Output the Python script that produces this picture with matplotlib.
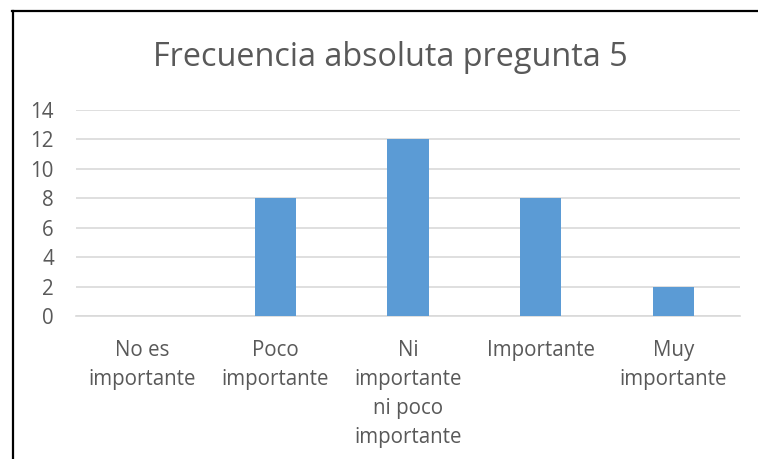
import matplotlib.pyplot as plt
from matplotlib.lines import Line2D

# Datos
categorias = ["No es\nimportante", "Poco\nimportante", "Ni\nimportante\nni poco\nimportante",
              "Importante", "Muy\nimportante"]
frecuencias = [0, 8, 12, 8, 2]
ticks_y = [0, 2, 4, 6, 8, 10, 12, 14]

plt.rcParams['font.family'] = ['Open Sans', 'DejaVu Sans']
gris = "#595959"

fig = plt.figure(figsize=(7.58, 4.59), dpi=100)
ax = fig.add_axes([76 / 758, 1 - 316 / 459, (740 - 76) / 758, (316 - 110) / 459])

x = range(len(categorias))
ax.bar(x, frecuencias, width=0.31, color="#5B9BD5", zorder=3)

ax.set_xlim(-0.5, len(categorias) - 0.5)
ax.set_ylim(0, 14)
ax.set_yticks(ticks_y)
ax.set_xticks(list(x))
ax.set_xticklabels(categorias, linespacing=1.5, va="top")
ax.tick_params(axis="both", length=0, colors=gris, labelsize=14.8)
ax.tick_params(axis="x", pad=17)
ax.tick_params(axis="y", pad=16)
ax.grid(axis="y", color="#D9D9D9", linewidth=1.2, zorder=0)
for s in ["top", "right", "left"]:
    ax.spines[s].set_visible(False)
ax.spines["bottom"].set_color("#D9D9D9")
ax.spines["bottom"].set_linewidth(1.2)

fig.text(390 / 758, 1 - 57 / 459, "Frecuencia absoluta pregunta 5",
         ha="center", va="center", fontsize=23.3, color=gris)

# Borde del cuadro
fig.add_artist(Line2D([12.5 / 758, 12.5 / 758], [0, 1 - 11 / 459], color="black", lw=1.6))
fig.add_artist(Line2D([12 / 758, 1], [1 - 11 / 459, 1 - 11 / 459], color="black", lw=1.6))

fig.savefig("out.png", dpi=100)
